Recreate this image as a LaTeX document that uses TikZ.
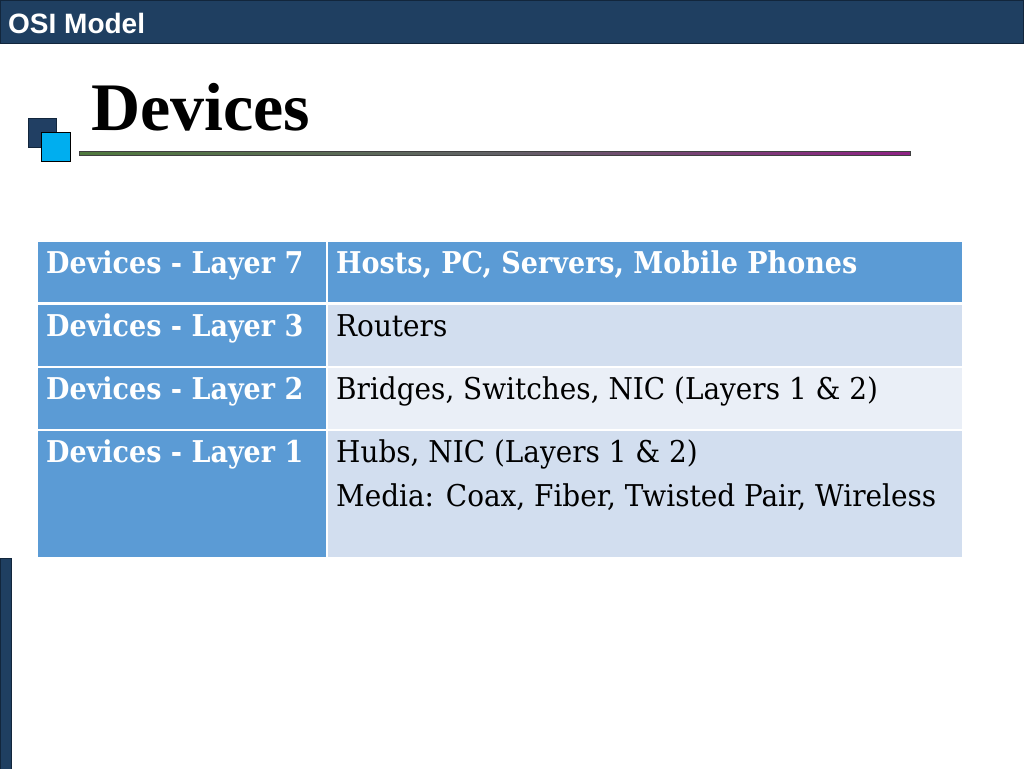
\documentclass[tikz,border=0pt]{standalone}
\usepackage{fontspec}
\setmainfont{DejaVu Serif}[FakeStretch=0.93]
\newfontfamily\hdrfont{DejaVu Serif}[FakeStretch=0.90]
\newfontfamily\titlefont{Liberation Serif}
\newfontfamily\barfont{Liberation Sans}
\definecolor{barblue}{HTML}{1F3F61}
\definecolor{barline}{HTML}{12263C}
\definecolor{sqdark}{HTML}{213F63}
\definecolor{sqlight}{HTML}{00AEEF}
\definecolor{hdr}{HTML}{5B9BD5}
\definecolor{rowa}{HTML}{D2DEEF}
\definecolor{rowb}{HTML}{EAEFF7}
\definecolor{lgreen}{RGB}{80,122,62}
\definecolor{lmid}{RGB}{98,98,102}
\definecolor{lpurple}{RGB}{142,34,132}
\begin{document}
\begin{tikzpicture}[x=1pt,y=-1pt,
  cell/.style={draw=none,inner sep=0pt,outer sep=0pt,anchor=north west},
  lcell/.style={cell,fill=hdr,minimum width=288pt},
  rcell/.style={cell,minimum width=634pt},
  hdrtxt/.style={inner sep=0pt,anchor=base west,text=white,font=\hdrfont\bfseries\fontsize{30}{36}\selectfont},
  bodytxt/.style={inner sep=0pt,anchor=base west,text=black,font=\fontsize{30}{36}\selectfont}]
\useasboundingbox (0,0) rectangle (1024,768);
\fill[white] (0,0) rectangle (1024,768);
% top bar
\node[cell,fill=barblue,draw=barline,line width=1pt,minimum width=1023pt,minimum height=43pt] (topbar) at (0.5,0.5) {};
\node[inner sep=0pt,anchor=base west,text=white,font=\barfont\bfseries\fontsize{28}{32}\selectfont] (osi) at (8,34) {OSI Model};
% title
\node[inner sep=0pt,anchor=base west,font=\titlefont\bfseries\fontsize{68}{72}\selectfont] (title) at (91,130) {Devices};
% squares
\node[cell,fill=sqdark,draw=barline,line width=0.8pt,minimum width=28pt,minimum height=29pt] (sq1) at (28,118) {};
\node[cell,fill=sqlight,draw=black,line width=0.8pt,minimum width=29pt,minimum height=29pt] (sq2) at (41,132) {};
% gradient line
\shade[left color=lgreen,right color=lpurple,middle color=lmid] (79,151) rectangle (910,155.5);
\draw[black!75,line width=0.6pt] (79,151) rectangle (910,155.5);
% left bar
\node[cell,fill=barblue,draw=barline,line width=1pt,minimum width=11pt,minimum height=211pt] (leftbar) at (0.5,558) {};
% table cells
\node[lcell,minimum height=60pt] (l1) at (38,242) {};
\node[rcell,fill=hdr,minimum height=60pt] (r1) at (328,242) {};
\node[lcell,minimum height=61pt] (l2) at (38,305) {};
\node[rcell,fill=rowa,minimum height=61pt] (r2) at (328,305) {};
\node[lcell,minimum height=61pt] (l3) at (38,368) {};
\node[rcell,fill=rowb,minimum height=61pt] (r3) at (328,368) {};
\node[lcell,minimum height=126pt] (l4) at (38,431) {};
\node[rcell,fill=rowa,minimum height=126pt] (r4) at (328,431) {};
% texts
\node[hdrtxt] (t1) at (46,273) {Devices - Layer 7};
\node[hdrtxt] (u1) at (336,273) {Hosts, PC, Servers, Mobile Phones};
\node[hdrtxt] (t2) at (46,336) {Devices - Layer 3};
\node[bodytxt] (u2) at (336,336) {Routers};
\node[hdrtxt] (t3) at (46,399) {Devices - Layer 2};
\node[bodytxt] (u3) at (336,399) {Bridges, Switches, NIC (Layers 1 \& 2)};
\node[hdrtxt] (t4) at (46,462) {Devices - Layer 1};
\node[bodytxt] (u4) at (336,462) {Hubs, NIC (Layers 1 \& 2)};
\node[bodytxt] (u5) at (336,506) {Media: Coax, Fiber, Twisted Pair, Wireless};
\end{tikzpicture}
\end{document}
